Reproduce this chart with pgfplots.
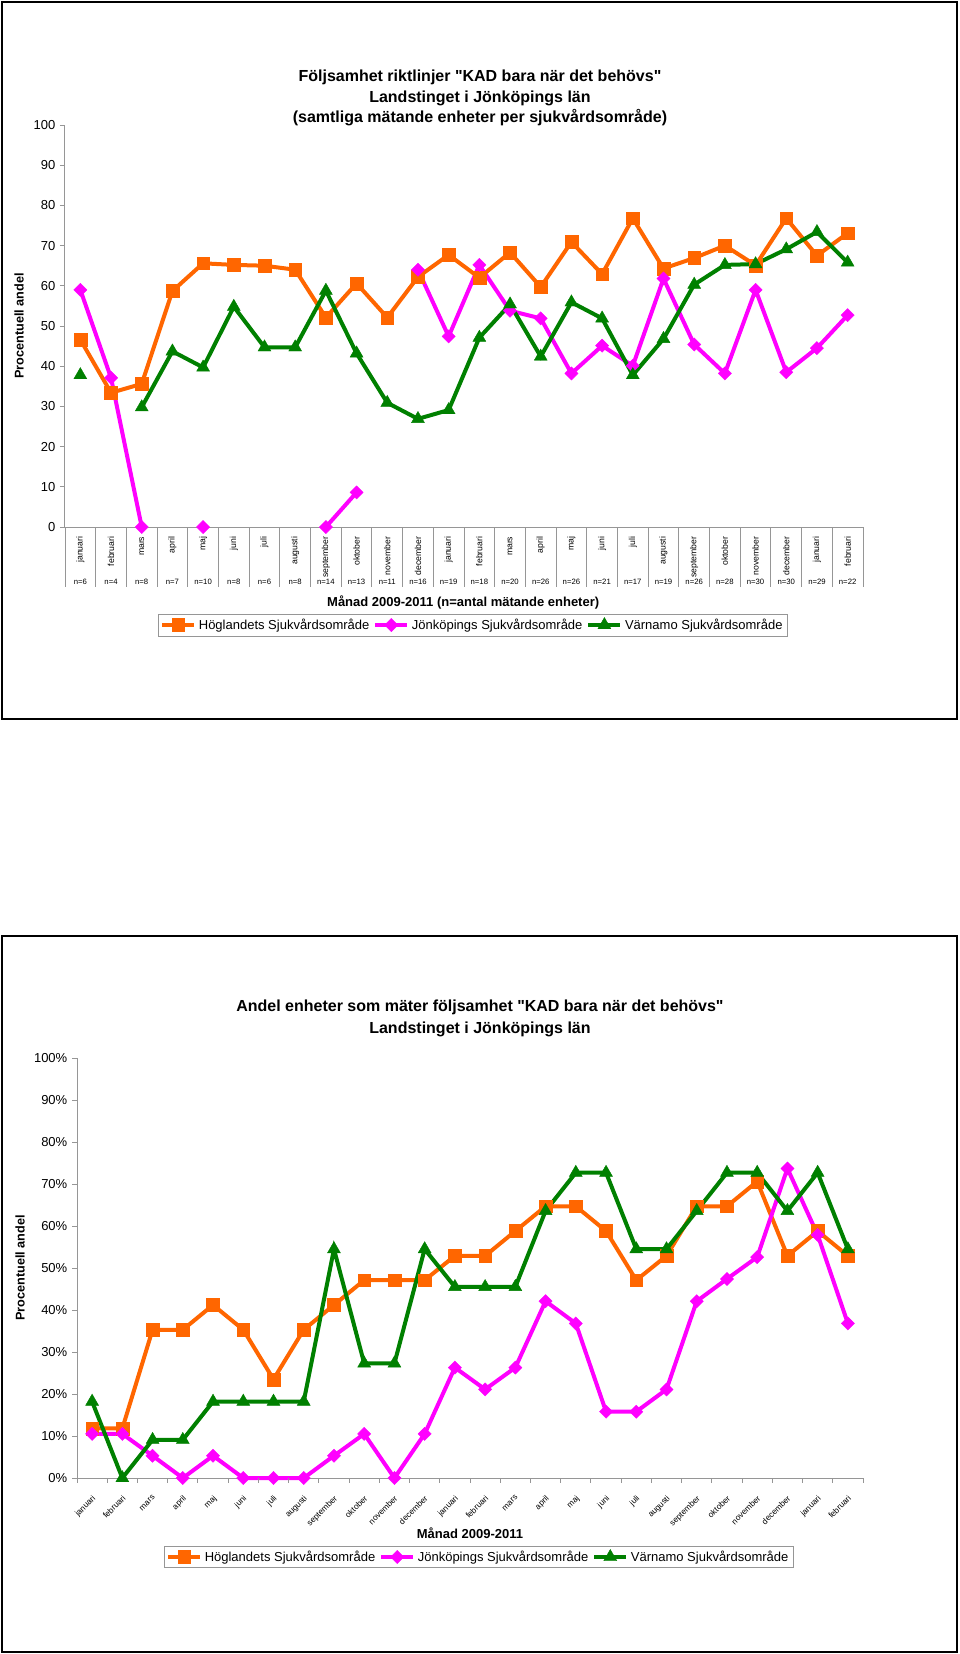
\documentclass[border=0pt]{standalone}
\usepackage{pgfplots}
\usepackage{pgfplotstable}
\pgfplotsset{compat=1.18}
\usepackage{fontspec}
\setmainfont{Liberation Sans}[Ligatures=TeXOff]
\definecolor{hogl}{RGB}{255,102,0}
\definecolor{jonk}{RGB}{255,0,255}
\definecolor{varn}{RGB}{0,128,0}
\definecolor{axgray}{RGB}{150,150,150}

\pgfplotstableread{
x hog jon var
0 46.6 59.0 37.8
1 33.4 37.1 nan
2 35.6 0 29.8
3 58.7 nan 43.7
4 65.6 0 39.7
5 65.2 nan 54.8
6 65.0 nan 44.7
7 64.0 nan 44.7
8 52.1 0 58.8
9 60.6 8.6 43.2
10 52.1 nan 30.9
11 62.2 64.0 26.9
12 67.7 47.4 29.1
13 62.0 65.2 47.1
14 68.3 53.8 55.4
15 59.7 51.9 42.4
16 70.9 38.2 55.9
17 62.9 45.1 51.9
18 76.8 40.1 37.8
19 64.3 61.8 46.8
20 66.9 45.4 60.3
21 70.0 38.2 65.2
22 65.1 59.0 65.4
23 76.8 38.5 69.1
24 67.5 44.5 73.4
25 73.1 52.7 65.8
}\dataA

\pgfplotstableread{
x hog jon var
0 11.8 10.5 18.2
1 11.8 10.5 0
2 35.3 5.3 9.1
3 35.3 0 9.1
4 41.2 5.3 18.2
5 35.3 0 18.2
6 23.5 0 18.2
7 35.3 0 18.2
8 41.2 5.3 54.5
9 47.1 10.5 27.3
10 47.1 0 27.3
11 47.1 10.5 54.5
12 52.9 26.3 45.5
13 52.9 21.1 45.5
14 58.8 26.3 45.5
15 64.7 42.1 63.6
16 64.7 36.8 72.7
17 58.8 15.8 72.7
18 47.1 15.8 54.5
19 52.9 21.1 54.5
20 64.7 42.1 63.6
21 64.7 47.4 72.7
22 70.6 52.6 72.7
23 52.9 73.7 63.6
24 58.8 57.9 72.7
25 52.9 36.8 54.5
}\dataB

\tikzset{nlab/.style={font=\fontsize{5.8}{7}\selectfont, yshift=-41.25pt, anchor=center}}

\pgfplotsset{
  kadbase/.style={
    scale only axis,
    clip=false,
    xmin=-0.5, xmax=25.5, ymin=0, ymax=100,
    axis x line*=bottom, axis y line*=left,
    axis line style={axgray, line width=0.75pt},
    xtick={0,...,25},
    xtick style={draw=none},
    ytick={0,10,...,100},
    ytick style={axgray, line width=0.75pt},
    tick align=outside,
    major tick length=3.75pt,
    yticklabel style={font=\fontsize{9.75}{12}\selectfont},
    /pgf/number format/assume math mode=true,
    unbounded coords=jump,
    xlabel style={font=\bfseries\fontsize{9.75}{12}\selectfont, anchor=center},
    ylabel style={font=\bfseries\fontsize{9.5}{12}\selectfont, anchor=center},
    legend columns=3,
    legend cell align=left,
    legend style={draw=axgray, line width=0.6pt, font=\fontsize{9.75}{12}\selectfont, anchor=center, inner sep=1.5pt,
      /tikz/every even column/.append style={column sep=1pt},
      /tikz/every odd column/.append style={column sep=0pt}},
    legend image code/.code={\draw[mark repeat=2,mark phase=2,##1] plot coordinates {(0cm,0cm) (0.42cm,0cm) (0.84cm,0cm)};},
  },
  shog/.style={color=hogl, line width=3pt, mark=square*, mark size=4.8pt, mark options={solid, line width=0.3pt}},
  sjon/.style={color=jonk, line width=3pt, mark=square*, mark size=3.5pt, mark options={solid, rotate=45, line width=0.3pt}},
  svar/.style={color=varn, line width=3pt, mark=triangle*, mark size=5.6pt, mark options={solid, line width=0.3pt}},
}

\begin{document}
\begin{tikzpicture}
\useasboundingbox (0pt,0pt) rectangle (720pt,-1240.5pt);
\draw[line width=2pt] (1.5pt,-1.5pt) rectangle (717.75pt,-539.25pt);
\draw[line width=2pt] (1.5pt,-702pt) rectangle (717.75pt,-1239pt);

% ---------- Chart 1 ----------
\begin{axis}[kadbase,
  at={(48.75pt,-395.25pt)}, anchor=south west,
  width=598.5pt, height=301.5pt,
  xticklabels={januari,februari,mars,april,maj,juni,juli,augusti,september,oktober,november,december,januari,februari,mars,april,maj,juni,juli,augusti,september,oktober,november,december,januari,februari},
  xticklabel style={rotate=90, anchor=east, font=\fontsize{6.5}{7}\selectfont},
  title={Följsamhet riktlinjer "KAD bara när det behövs"\\Landstinget i Jönköpings län\\(samtliga mätande enheter per sjukvårdsområde)},
  title style={align=center, font=\bfseries\fontsize{12}{15.5}\selectfont, at={(axis description cs:0.520,1.047)}, anchor=center},
  xlabel={Månad 2009-2011 (n=antal mätande enheter)},
  xlabel style={at={(axis description cs:0.499,-0.189)}},
  ylabel={Procentuell andel},
  ylabel style={at={(axis description cs:-0.0576,0.5)}},
  legend style={at={(axis description cs:0.511,-0.2438)}},
]
\addplot[shog] table[x=x,y=hog] {\dataA};
\addlegendentry{Höglandets Sjukvårdsområde}
\addplot[sjon] table[x=x,y=jon] {\dataA};
\addlegendentry{Jönköpings Sjukvårdsområde}
\addplot[svar] table[x=x,y=var] {\dataA};
\addlegendentry{Värnamo Sjukvårdsområde}
\node[nlab] at (axis cs:0,0) {n=6};
\node[nlab] at (axis cs:1,0) {n=4};
\node[nlab] at (axis cs:2,0) {n=8};
\node[nlab] at (axis cs:3,0) {n=7};
\node[nlab] at (axis cs:4,0) {n=10};
\node[nlab] at (axis cs:5,0) {n=8};
\node[nlab] at (axis cs:6,0) {n=6};
\node[nlab] at (axis cs:7,0) {n=8};
\node[nlab] at (axis cs:8,0) {n=14};
\node[nlab] at (axis cs:9,0) {n=13};
\node[nlab] at (axis cs:10,0) {n=11};
\node[nlab] at (axis cs:11,0) {n=16};
\node[nlab] at (axis cs:12,0) {n=19};
\node[nlab] at (axis cs:13,0) {n=18};
\node[nlab] at (axis cs:14,0) {n=20};
\node[nlab] at (axis cs:15,0) {n=26};
\node[nlab] at (axis cs:16,0) {n=26};
\node[nlab] at (axis cs:17,0) {n=21};
\node[nlab] at (axis cs:18,0) {n=17};
\node[nlab] at (axis cs:19,0) {n=19};
\node[nlab] at (axis cs:20,0) {n=26};
\node[nlab] at (axis cs:21,0) {n=28};
\node[nlab] at (axis cs:22,0) {n=30};
\node[nlab] at (axis cs:23,0) {n=30};
\node[nlab] at (axis cs:24,0) {n=29};
\node[nlab] at (axis cs:25,0) {n=22};
\end{axis}
\foreach \i in {0,...,26} \draw[axgray, line width=0.75pt] ({48.75pt+\i*23.0192pt},-395.25pt) -- ++(0pt,-45pt);

% ---------- Chart 2 ----------
\begin{axis}[kadbase,
  at={(57.75pt,-1108.5pt)}, anchor=south west,
  width=589.5pt, height=315pt,
  yticklabels={0\%,10\%,20\%,30\%,40\%,50\%,60\%,70\%,80\%,90\%,100\%},
  xticklabels={januari,februari,mars,april,maj,juni,juli,augusti,september,oktober,november,december,januari,februari,mars,april,maj,juni,juli,augusti,september,oktober,november,december,januari,februari},
  xticklabel style={rotate=45, anchor=north east, font=\fontsize{6.2}{7}\selectfont, xshift=-3pt, yshift=-2.5pt},
  title={Andel enheter som mäter följsamhet "KAD bara när det behövs"\\Landstinget i Jönköpings län},
  title style={align=center, font=\bfseries\fontsize{12}{16.5}\selectfont, at={(axis description cs:0.5127,1.0762)}, anchor=center},
  xlabel={Månad 2009-2011},
  xlabel style={at={(axis description cs:0.5,-0.131)}},
  ylabel={Procentuell andel},
  ylabel style={at={(axis description cs:-0.0725,0.5)}},
  legend style={at={(axis description cs:0.511,-0.188)}},
]
\addplot[shog] table[x=x,y=hog] {\dataB};
\addlegendentry{Höglandets Sjukvårdsområde}
\addplot[sjon] table[x=x,y=jon] {\dataB};
\addlegendentry{Jönköpings Sjukvårdsområde}
\addplot[svar] table[x=x,y=var] {\dataB};
\addlegendentry{Värnamo Sjukvårdsområde}
\end{axis}
\foreach \i in {0,...,26} \draw[axgray, line width=0.75pt] ({57.75pt+\i*22.673pt},-1108.5pt) -- ++(0pt,-3.75pt);
\end{tikzpicture}
\end{document}
